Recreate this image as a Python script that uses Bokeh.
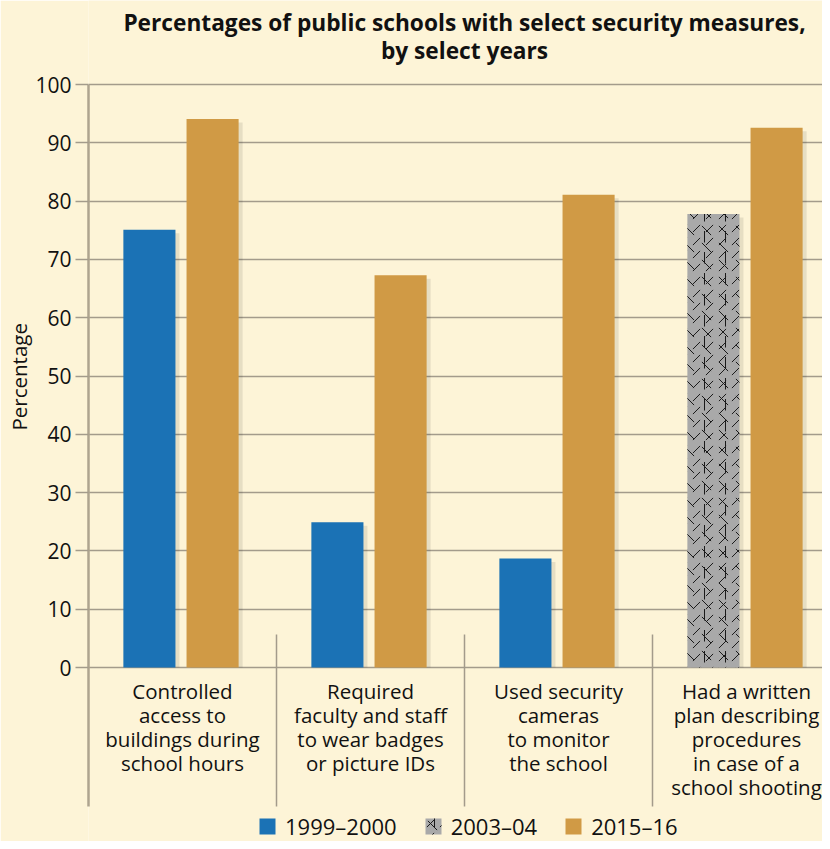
from bokeh.plotting import figure
from bokeh.models import (Range1d, FixedTicker, Legend, LegendItem, Title)
from bokeh.core.properties import value
from bokeh.embed import file_html
from bokeh.resources import INLINE

# ---- data ----
categories = [
    "Controlled\naccess to\nbuildings during\nschool hours",
    "Required\nfaculty and staff\nto wear badges\nor picture IDs",
    "Used security\ncameras\nto monitor\nthe school",
    "Had a written\nplan describing\nprocedures\nin case of a\nschool shooting",
]
series_names = ["1999\u20132000", "2003\u201304", "2015\u201316"]
v1999 = [75.1, 24.9, 18.7, None]
v2003 = [None, None, None, 77.8]
v2015 = [94.1, 67.3, 81.1, 92.6]
y_ticks = [0, 10, 20, 30, 40, 50, 60, 70, 80, 90, 100]
title_lines = ["Percentages of public schools with select security measures,",
               "by select years"]
y_label = "Percentage"

# ---- style / layout ----
BG = "#fdf4d7"
BLUE = "#1b72b5"
GRAY = "#a9a9a9"
ORANGE = "#d09a45"
GRID = "#a39b8b"
FONT = "Open Sans"

W, H = 822, 841
LEFT = 88
PX_PER_GROUP = 188.0
PX_PER_UNIT = 5.83
TOP_PAD = 84          # pixels above the 100 line
X_END = (W - LEFT) / PX_PER_GROUP
Y_END = 100 + TOP_PAD / PX_PER_UNIT
Y_START = 100 - (H - TOP_PAD) / PX_PER_UNIT
AXIS_BOTTOM = -23.84
OFF = 0.168
SHIFT = -0.008
BW = 0.277

p = figure(width=W, height=H, output_backend="svg", toolbar_location=None,
           title=None,
           x_range=Range1d(0, X_END), y_range=Range1d(Y_START, Y_END),
           x_axis_location=None,
           min_border_left=LEFT, min_border_right=0, min_border_top=0,
           min_border_bottom=0)
p.background_fill_color = BG
p.border_fill_color = BG
p.outline_line_color = None

# y label as a title on the left
p.add_layout(Title(text=y_label, align="left", offset=411, text_font=FONT,
                   text_font_style="normal", text_font_size="20.5px",
                   text_color="#111111", standoff=0), "left")

# axis
ax = p.yaxis[0]
ax.ticker = FixedTicker(ticks=y_ticks)
ax.bounds = (AXIS_BOTTOM, 100)
ax.minor_tick_line_color = None
ax.major_tick_in = 0
ax.major_tick_out = 13
ax.major_tick_line_color = GRID
ax.major_tick_line_width = 1.5
ax.axis_line_color = "#aea48f"
ax.axis_line_width = 2.5
ax.major_label_text_font = FONT
ax.major_label_text_font_size = "21px"
ax.major_label_text_color = "#111111"
ax.major_label_standoff = 4
p.xgrid.grid_line_color = None
p.ygrid.grid_line_color = GRID
p.ygrid.grid_line_width = 1.5

# title (two centred lines)
title_x = 2.0
p.text(x=[title_x, title_x], y=[110.63, 105.83], text=title_lines,
       text_align="center", text_baseline="middle", text_font=value(FONT),
       text_font_style="bold", text_font_size="22.7px", text_color="#111111")

# dividers between groups
n = len(categories)
p.segment(x0=list(range(1, n)), y0=[5.66] * (n - 1),
          x1=list(range(1, n)), y1=[AXIS_BOTTOM] * (n - 1),
          line_color=GRID, line_width=1.5)

# bars
def left_pos(i):
    return i + 0.5 + SHIFT - OFF

def right_pos(i):
    return i + 0.5 + SHIFT + OFF

shadow_dx = 4 / PX_PER_GROUP
b_x = [left_pos(i) for i, v in enumerate(v1999) if v is not None]
b_t = [v for v in v1999 if v is not None]
g_x = [left_pos(i) for i, v in enumerate(v2003) if v is not None]
g_t = [v for v in v2003 if v is not None]
o_x = [right_pos(i) for i in range(n)]
o_t = list(v2015)

for xs, ts in [(b_x, b_t), (g_x, g_t), (o_x, o_t)]:
    p.vbar(x=[x + shadow_dx for x in xs], top=[t - 0.6 for t in ts], bottom=0,
           width=BW, fill_color="#000000", fill_alpha=0.09, line_color=None)

rb = p.vbar(x=b_x, top=b_t, bottom=0, width=BW, fill_color=BLUE, line_color=None)
rg = p.vbar(x=g_x, top=g_t, bottom=0, width=BW, fill_color=GRAY, line_color=None,
            hatch_pattern=",", hatch_color="#1a1a1a", hatch_scale=13,
            hatch_weight=1)
gray_layers = [rg]
for pat, sc in [("`", 17), (":", 21)]:
    gray_layers.append(p.vbar(x=g_x, top=g_t, bottom=0, width=BW, fill_alpha=0,
                              line_color=None, hatch_pattern=pat,
                              hatch_color="#1a1a1a", hatch_scale=sc,
                              hatch_weight=1))
ro = p.vbar(x=o_x, top=o_t, bottom=0, width=BW, fill_color=ORANGE, line_color=None)

# category labels
p.text(x=[i + 0.5 for i in range(n)], y=[-1.66] * n, text=categories,
       text_align="center", text_baseline="top", text_font=value(FONT),
       text_font_size="20.5px", text_line_height=0.86, text_color="#111111")

legend = Legend(items=[LegendItem(label=series_names[0], renderers=[rb]),
                       LegendItem(label=series_names[1], renderers=gray_layers),
                       LegendItem(label=series_names[2], renderers=[ro])],
                orientation="horizontal", location=(169, 0))
legend.glyph_width = 20
legend.glyph_height = 20
legend.label_text_font = FONT
legend.label_text_font_size = "22px"
legend.label_text_color = "#111111"
legend.label_standoff = 8
legend.spacing = 26
legend.padding = 0
legend.margin = 0
legend.background_fill_alpha = 0
legend.border_line_color = None
p.add_layout(legend)

open("out.html", "w").write(file_html(p, INLINE))
